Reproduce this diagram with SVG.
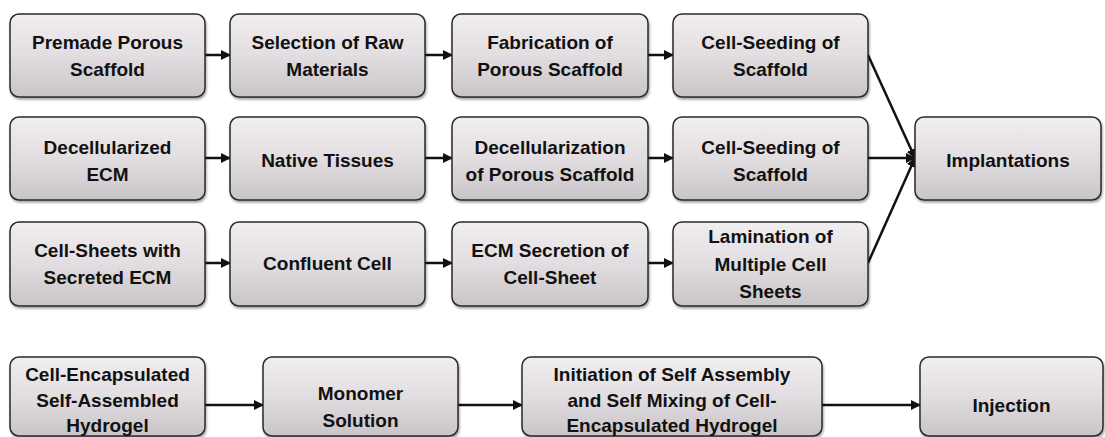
<svg xmlns="http://www.w3.org/2000/svg" width="1105" height="437" viewBox="0 0 1105 437">
<defs>
<linearGradient id="g" x1="0" y1="0" x2="0" y2="1">
<stop offset="0" stop-color="#f1eef0"/>
<stop offset="0.5" stop-color="#e2dde0"/>
<stop offset="1" stop-color="#c9c4c8"/>
</linearGradient>
<marker id="ah" viewBox="0 0 10 10" refX="9" refY="5" markerWidth="4" markerHeight="4" orient="auto" markerUnits="strokeWidth">
<path d="M0,0 L10,5 L0,10 z" fill="#111"/>
</marker>
<filter id="sh" x="-5%" y="-5%" width="112%" height="120%">
<feDropShadow dx="1" dy="2" stdDeviation="1.2" flood-color="#000" flood-opacity="0.35"/>
</filter>
</defs>
<style>
rect.b{fill:url(#g);stroke:#2a2a2a;stroke-width:1.5;filter:url(#sh)}
text{font-family:"Liberation Sans",Arial,sans-serif;font-weight:bold;font-size:19px;fill:#111;text-anchor:middle}
.c line{stroke:#111;stroke-width:2.5;marker-end:url(#ah)}
</style>
<g class="c" id="connectors">
<line x1="205" y1="55" x2="230" y2="55"/>
<line x1="425" y1="55" x2="452" y2="55"/>
<line x1="648" y1="55" x2="673" y2="55"/>
<line x1="205" y1="158" x2="230" y2="158"/>
<line x1="425" y1="158" x2="452" y2="158"/>
<line x1="648" y1="158" x2="673" y2="158"/>
<line x1="205" y1="263" x2="230" y2="263"/>
<line x1="425" y1="263" x2="452" y2="263"/>
<line x1="648" y1="263" x2="673" y2="263"/>
<line x1="868" y1="55" x2="915" y2="158"/>
<line x1="868" y1="158" x2="915" y2="158"/>
<line x1="868" y1="263" x2="915" y2="158"/>
<line x1="205" y1="405" x2="263" y2="405"/>
<line x1="458" y1="405" x2="522" y2="405"/>
<line x1="822" y1="405" x2="920" y2="405"/>
</g>
<g id="n1"><rect class="b" x="10" y="14" width="195" height="83" rx="9"/><text x="107.5" y="49">Premade Porous</text><text x="107.5" y="76">Scaffold</text></g>
<g id="n2"><rect class="b" x="230" y="14" width="195" height="83" rx="9"/><text x="327.5" y="49">Selection of Raw</text><text x="327.5" y="76">Materials</text></g>
<g id="n3"><rect class="b" x="452" y="14" width="196" height="83" rx="9"/><text x="550" y="49">Fabrication of</text><text x="550" y="76">Porous Scaffold</text></g>
<g id="n4"><rect class="b" x="673" y="14" width="195" height="83" rx="9"/><text x="770.5" y="49">Cell-Seeding of</text><text x="770.5" y="76">Scaffold</text></g>
<g id="n5"><rect class="b" x="10" y="117" width="195" height="83" rx="9"/><text x="107.5" y="154">Decellularized</text><text x="107.5" y="181">ECM</text></g>
<g id="n6"><rect class="b" x="230" y="117" width="195" height="83" rx="9"/><text x="327.5" y="167">Native Tissues</text></g>
<g id="n7"><rect class="b" x="452" y="117" width="196" height="83" rx="9"/><text x="550" y="154">Decellularization</text><text x="550" y="181">of Porous Scaffold</text></g>
<g id="n8"><rect class="b" x="673" y="117" width="195" height="83" rx="9"/><text x="770.5" y="154">Cell-Seeding of</text><text x="770.5" y="181">Scaffold</text></g>
<g id="n9"><rect class="b" x="915" y="117" width="186" height="83" rx="9"/><text x="1008" y="167">Implantations</text></g>
<g id="n10"><rect class="b" x="10" y="222" width="195" height="84" rx="9"/><text x="107.5" y="257">Cell-Sheets with</text><text x="107.5" y="284">Secreted ECM</text></g>
<g id="n11"><rect class="b" x="230" y="222" width="195" height="84" rx="9"/><text x="327.5" y="270">Confluent Cell</text></g>
<g id="n12"><rect class="b" x="452" y="222" width="196" height="84" rx="9"/><text x="550" y="257">ECM Secretion of</text><text x="550" y="284">Cell-Sheet</text></g>
<g id="n13"><rect class="b" x="673" y="222" width="195" height="84" rx="9"/><text x="770.5" y="243">Lamination of</text><text x="770.5" y="271">Multiple Cell</text><text x="770.5" y="298">Sheets</text></g>
<g id="n14"><rect class="b" x="10" y="357" width="195" height="79" rx="9"/><text x="107.5" y="381">Cell-Encapsulated</text><text x="107.5" y="407">Self-Assembled</text><text x="107.5" y="432">Hydrogel</text></g>
<g id="n15"><rect class="b" x="263" y="357" width="195" height="79" rx="9"/><text x="360.5" y="400">Monomer</text><text x="360.5" y="427">Solution</text></g>
<g id="n16"><rect class="b" x="522" y="357" width="300" height="79" rx="9"/><text x="672" y="381">Initiation of Self Assembly</text><text x="672" y="407">and Self Mixing of Cell-</text><text x="672" y="432">Encapsulated Hydrogel</text></g>
<g id="n17"><rect class="b" x="920" y="357" width="183" height="79" rx="9"/><text x="1011.5" y="412">Injection</text></g>
</svg>
